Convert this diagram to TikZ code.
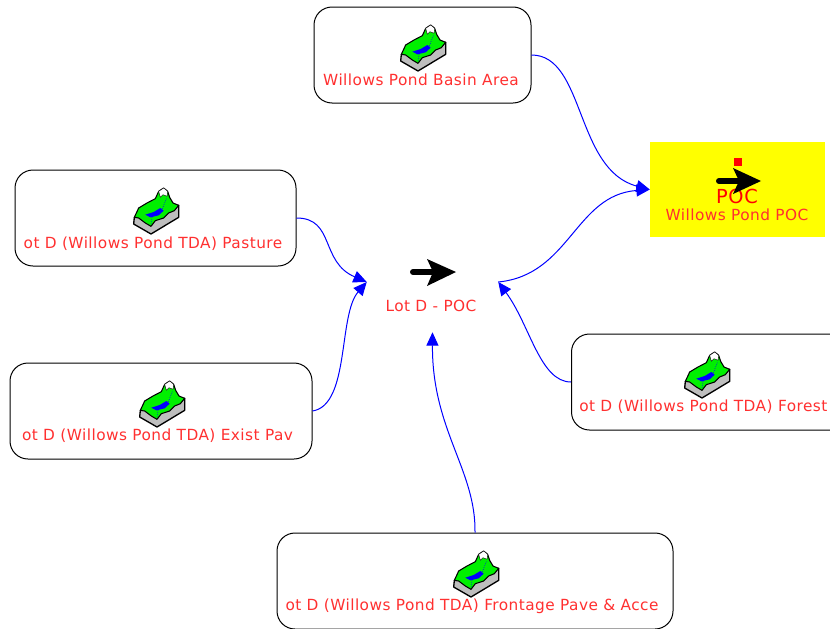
\documentclass[tikz,border=0pt]{standalone}
\usepackage{fontspec}
\setmainfont[LetterSpace=3]{DejaVu Sans}
\usetikzlibrary{arrows.meta}
\definecolor{lbl}{HTML}{FF3030}
\definecolor{lnk}{HTML}{0000FF}
\definecolor{pocyellow}{HTML}{FFFF00}
\definecolor{pocred}{HTML}{FF0000}
\definecolor{terrgreen}{HTML}{00F000}
\definecolor{terrgray}{HTML}{BEBEBE}
\definecolor{terrblue}{HTML}{0000FF}
\tikzset{
  x=0.75pt,y=-0.75pt,
  box/.style={draw=black,line width=0.75pt,rounded corners=13.5pt,inner sep=0,fill=white},
  lbl/.style={text=lbl,font=\fontsize{11.5pt}{12pt}\selectfont,inner sep=0},
  link/.style={draw=lnk,line width=0.75pt,-{Triangle[length=10pt,width=9pt,fill=lnk]}},
  pics/terrain/.style={code={
    \begin{scope}[x=0.25pt,y=-0.25pt,shift={(-127,-103)},line join=round]
      \fill[terrgray,draw=black,line width=1pt] (62,128)--(60,148)--(112,178)--(195,128)--(195,92)--(112,125)--cycle;
      \fill[terrgreen,draw=black,line width=0.8pt] (62,128)--(75,100)--(100,85)--(125,72)--(135,50)--(150,40)--(162,50)--(168,68)--(178,85)--(195,92)--(182,108)--(165,115)--(150,130)--(125,138)--(112,155)--(95,145)--(75,130)--cycle;
      \fill[white,draw=black,line width=0.3pt] (135,50)--(150,40)--(162,50)--(160,65)--(148,60)--(140,68)--cycle;
      \fill[terrblue] (95,120)--(120,112)--(140,100)--(150,108)--(135,122)--(110,128)--cycle;
      \draw[terrblue,line width=0.5pt,densely dotted] (158,72)--(145,105) (115,128)--(112,150);
    \end{scope}}},
  shaft/.style={line width=4.5pt,line cap=round,draw=black},
}
\begin{document}
\begin{tikzpicture}
\useasboundingbox (0,0) rectangle (830,628);
\clip (0,0) rectangle (830,628);
% boxes
\node[box,minimum width=162.75pt,minimum height=72pt] (basin) at (422.5,55) {};
\node[box,minimum width=210.75pt,minimum height=72pt] (pasture) at (155.5,218) {};
\node[box,minimum width=226.5pt,minimum height=72pt] (pave) at (161,411) {};
\node[box,minimum width=210pt,minimum height=72pt,anchor=west] (forest) at (571,382) {};
\node[box,minimum width=297pt,minimum height=72pt] (front) at (475,581) {};
\node[fill=pocyellow,minimum width=131.25pt,minimum height=71.25pt,inner sep=0] (poc) at (737.5,189.5) {};
\node[minimum width=98.25pt,minimum height=75pt,inner sep=0] (lotd) at (432.5,282) {};
% icons
\pic at (423,46) {terrain};
\pic at (156,209) {terrain};
\pic at (162,402) {terrain};
\pic at (707,373) {terrain};
\pic at (476,572) {terrain};
% labels
\node[lbl] (basinlbl) at (421,80) {Willows Pond Basin Area};
\node[lbl] (pasturelbl) at (153,244) {ot D (Willows Pond TDA) Pasture};
\node[lbl] (pavelbl) at (157.5,436) {ot D (Willows Pond TDA) Exist Pav};
\node[lbl,anchor=west] (forestlbl) at (579,407) {ot D (Willows Pond TDA) Forest};
\node[lbl] (frontlbl) at (472,606) {ot D (Willows Pond TDA) Frontage Pave \& Acce};
\node[lbl] (lotdlbl) at (431,306) {Lot D - POC};
\node[lbl] (poclbl) at (737,215) {Willows Pond POC};
\node[text=pocred,font=\fontsize{14.5pt}{16pt}\selectfont,inner sep=0] (poctitle) at (737,196) {POC};
% symbols
\fill[pocred] (734,158) rectangle (742,166);
\draw[shaft] (719,181)--(740,181);
\fill[black] (733,168)--(761,181)--(733,194)--(739,181)--cycle;
\draw[shaft] (413,272)--(435,272);
\fill[black] (427,259)--(456,272)--(427,286)--(433,272)--cycle;
% connectors
\path[link] (basin.east) .. controls (585,55) and (575,170) .. (poc.west);
\path[link] (lotd.east) .. controls (570,275) and (575,195) .. (poc.west);
\path[link] (forest.west) .. controls (540,382) and (530,325) .. (lotd.east);
\path[link] (pasture.east) .. controls (335,218) and (320,262) .. (lotd.west);
\path[link] (pave.east) .. controls (350,405) and (338,315) .. (lotd.west);
\path[link] (front.north) .. controls (476,470) and (432,430) .. (lotd.south);
\end{tikzpicture}
\end{document}
